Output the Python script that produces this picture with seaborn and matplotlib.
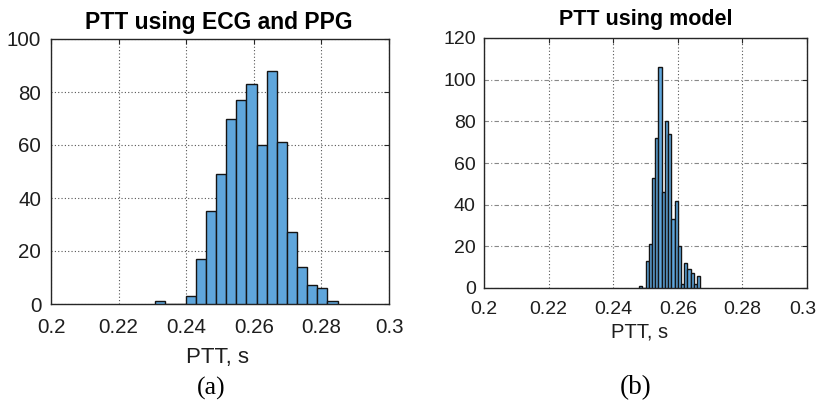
import numpy as np
import pandas as pd
import matplotlib
matplotlib.use("Agg")
import matplotlib.pyplot as plt
import matplotlib.transforms as mtrans
import seaborn as sns

# ---- data ----
ecg_start = 0.2308
ecg_width = 0.003
ecg_counts = [1, 0, 0, 3, 17, 35, 49, 70, 77, 83, 60, 88, 61, 27, 14, 7, 6, 1]

model_start = 0.2480
model_width = 0.001
model_counts = [1, 0, 13, 21, 53, 72, 106, 46, 80, 74, 33, 42, 20, 2, 12, 9, 7, 2, 6]

x_ticks = [0.2, 0.22, 0.24, 0.26, 0.28, 0.3]
x_ticklabels = ["0.2", "0.22", "0.24", "0.26", "0.28", "0.3"]
left_yticks = [0, 20, 40, 60, 80, 100]
right_yticks = [0, 20, 40, 60, 80, 100, 120]

titles = ["PTT using ECG and PPG", "PTT using model"]
xlabel = "PTT, s"
panel_labels = ["(a)", "(b)"]

sns.set_style("white")
plt.rcParams["font.family"] = ["Liberation Sans", "DejaVu Sans"]

fig = plt.figure(figsize=(8.19, 4.05), dpi=100)
axL = fig.add_axes([51 / 819, 1 - 304 / 405, 338 / 819, 265 / 405])
axR = fig.add_axes([484 / 819, 1 - 288 / 405, 323 / 819, 250 / 405])

face = "#5FA6DC"
edge = "#141414"


def draw(ax, start, width, counts):
    n = len(counts)
    centers = start + width * (np.arange(n) + 0.5)
    df = pd.DataFrame({"x": centers, "w": counts})
    sns.histplot(data=df, x="x", weights="w", binwidth=width,
                 binrange=(start, start + n * width), ax=ax,
                 color=face, edgecolor=edge, linewidth=1.0, alpha=1.0,
                 stat="count", zorder=3)


draw(axL, ecg_start, ecg_width, ecg_counts)
draw(axR, model_start, model_width, model_counts)

for ax, yt, ymax, tickfs, ypad, xpad in [
        (axL, left_yticks, 100, 14.8, 7, 10),
        (axR, right_yticks, 120, 14.0, 6, 9)]:
    ax.set_xlim(0.2, 0.3)
    ax.set_ylim(0, ymax)
    ax.set_xticks(x_ticks)
    ax.set_xticklabels(x_ticklabels)
    ax.set_yticks(yt)
    ax.set_ylabel("")
    ax.set_xlabel("")
    ax.tick_params(axis="both", direction="in", length=3.5, width=0.8,
                   top=True, right=True, labelsize=tickfs, colors="#262626",
                   labelcolor="#1e1e1e")
    ax.tick_params(axis="y", pad=ypad)
    ax.tick_params(axis="x", pad=xpad)
    for s in ax.spines.values():
        s.set_color("#262626")
        s.set_linewidth(1.0)
        s.set_visible(True)
    ax.set_axisbelow(True)

# keep the last right-hand tick label inside the canvas
last = axR.get_xticklabels()[-1]
last.set_transform(last.get_transform() +
                   mtrans.ScaledTranslation(-4 / 100, 0, fig.dpi_scale_trans))

# grid styles
axL.grid(True, color="#555555", linestyle=(0, (1, 2)), linewidth=0.8)
axR.xaxis.grid(True, color="#555555", linestyle=(0, (1, 2)), linewidth=0.8)
axR.yaxis.grid(True, color="#888888", linestyle=(0, (4, 2, 1, 2)), linewidth=0.8)

# titles and labels (figure coordinates)
fig.text(219 / 819, 1 - 22 / 405, titles[0], ha="center", va="center",
         fontsize=16.5, fontweight="bold", color="black")
fig.text(646 / 819, 1 - 20 / 405, titles[1], ha="center", va="center",
         fontsize=15.5, fontweight="bold", color="black")

fig.text(218 / 819, 1 - 357 / 405, xlabel, ha="center", va="center",
         fontsize=16, color="#1e1e1e")
fig.text(640 / 819, 1 - 332 / 405, xlabel, ha="center", va="center",
         fontsize=14.5, color="#1e1e1e")

fig.text(211 / 819, 1 - 388 / 405, panel_labels[0], ha="center", va="center",
         fontsize=18.5, family=["Liberation Serif", "DejaVu Serif"], color="black")
fig.text(636 / 819, 1 - 388 / 405, panel_labels[1], ha="center", va="center",
         fontsize=19.5, family=["Liberation Serif", "DejaVu Serif"], color="black")

fig.savefig("out.png", dpi=100, facecolor="white")
